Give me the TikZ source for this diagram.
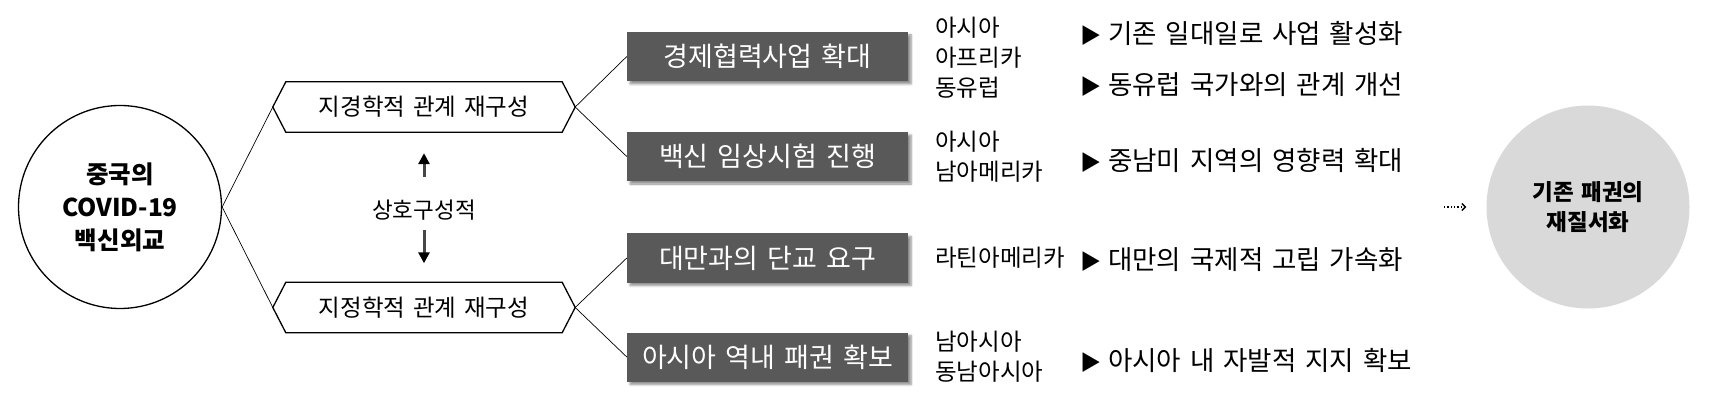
\documentclass[tikz,border=0pt]{standalone}
\usepackage{fontspec}
\setmainfont[WordSpace=1.5]{Noto Sans CJK KR}
\usetikzlibrary{arrows.meta,shadows.blur}
\definecolor{boxgray}{RGB}{89,89,89}
\definecolor{goalgray}{RGB}{217,217,217}
\newcommand{\pointer}{{\fontsize{21}{26}\selectfont ▶}\hspace{7pt}}

\begin{document}
\begin{tikzpicture}
[x=1pt, y=-1pt, every node/.style={inner sep=0pt},
 bigtext/.style={font=\fontsize{24.5}{33}\selectfont\bfseries, align=center},
 hexbox/.style={minimum width=302pt, minimum height=50pt, font=\fontsize{23.5}{27}\selectfont},
 darkbox/.style={fill=boxgray, text=white, minimum width=281pt, minimum height=49pt, font=\fontsize{27}{30}\selectfont,
   blur shadow={shadow xshift=3pt, shadow yshift=-3pt, shadow blur steps=6, shadow opacity=45}},
 region/.style={anchor=west, align=left, font=\fontsize{23.5}{30}\selectfont},
 effect/.style={anchor=west, font=\fontsize{26.5}{30}\selectfont},
 link/.style={line width=0.7pt},
 mutualarrow/.style={draw=gray!55!black, line width=3pt, -{Triangle[length=11pt, width=11pt, color=black, fill=black]}}]
\useasboundingbox (0,0) rectangle (1719,406);
\node (1) [circle, draw, line width=1.3pt, minimum size=203pt, bigtext] at (120,207) {중국의\\COVID-19\\백신외교};
\node (2) [hexbox] at (424,107) {지경학적 관계 재구성};
\node (3) [hexbox] at (424,307.5) {지정학적 관계 재구성};
\draw [line width=1.3pt] (2.west) -- ([xshift=13pt]2.north west) -- ([xshift=-13pt]2.north east) -- (2.east) -- ([xshift=-13pt]2.south east) -- ([xshift=13pt]2.south west) -- cycle;
\draw [line width=1.3pt] (3.west) -- ([xshift=13pt]3.north west) -- ([xshift=-13pt]3.north east) -- (3.east) -- ([xshift=-13pt]3.south east) -- ([xshift=13pt]3.south west) -- cycle;
\node (8) [font=\fontsize{22.5}{26}\selectfont, minimum height=40pt] at (424,210) {상호구성적};
\node (4) [darkbox] at (767.5,56.5) {경제협력사업 확대};
\node (5) [darkbox] at (767.5,156.5) {백신 임상시험 진행};
\node (6) [darkbox] at (767.5,258) {대만과의 단교 요구};
\node (7) [darkbox] at (767.5,357) {아시아 역내 패권 확보};
\node (9) [region] at (935,58) {아시아\\아프리카\\동유럽};
\node (10) [region] at (935,157) {아시아\\남아메리카};
\node (11) [region] at (935,258) {라틴아메리카};
\node (12) [region] at (935,357) {남아시아\\동남아시아};
\node (13) [effect] at (1080,33) {\pointer 기존 일대일로 사업 활성화};
\node (14) [effect] at (1080,85) {\pointer 동유럽 국가와의 관계 개선};
\node (15) [effect] at (1080,160) {\pointer 중남미 지역의 영향력 확대};
\node (16) [effect] at (1080,260) {\pointer 대만의 국제적 고립 가속화};
\node (17) [effect] at (1080,360) {\pointer 아시아 내 자발적 지지 확보};
\node (18) [circle, fill=goalgray, minimum size=203pt, font=\fontsize{22.5}{30}\selectfont\bfseries, align=center] at (1588,207) {기존 패권의\\재질서화};
\coordinate (19) at (1444,207);
\draw [link] (1.east) -- (2.west);
\draw [link] (1.east) -- (3.west);
\draw [link] (2.east) -- (4.west);
\draw [link] (2.east) -- (5.west);
\draw [link] (3.east) -- (6.west);
\draw [link] (3.east) -- (7.west);
\draw [mutualarrow, shorten <=13pt, shorten >=21pt] (8.north) -- (2.south);
\draw [mutualarrow, shorten >=19pt] (8.south) -- (3.north);
\draw [dotted, line width=1.3pt, -{Straight Barb[length=3.5pt]}, shorten >=20pt] (19) -- (18);
\end{tikzpicture}
\end{document}
